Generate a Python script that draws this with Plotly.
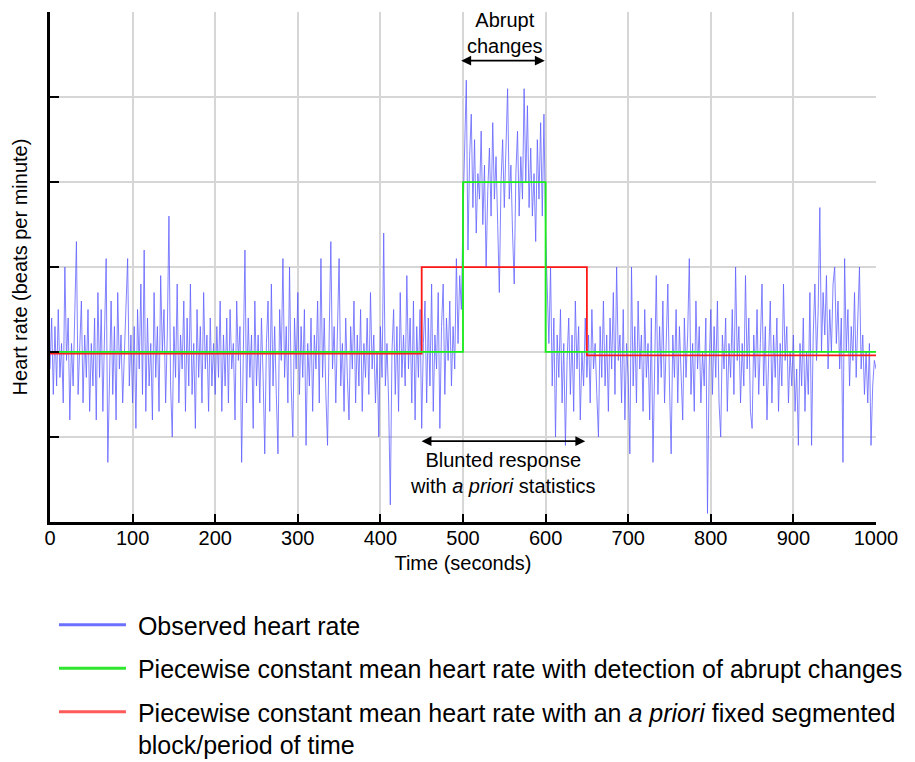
import plotly.graph_objects as go

# ---- data -------------------------------------------------------------
time_step = 2  # seconds between observed samples
obs_000_098 = [68, 74, 65, 73, 66, 75, 67, 71, 64, 80, 69, 74, 62, 71, 66, 73, 83, 65, 70, 76, 64, 72, 67, 75, 63,
               71, 66, 74, 62, 77, 67, 75, 63, 74, 81, 57, 69, 76, 65, 73, 62, 77, 68, 72, 64, 70, 76, 81, 66, 72]
obs_100_198 = [64, 73, 61, 75, 68, 78, 65, 82, 63, 74, 66, 71, 62, 77, 67, 73, 63, 79, 70, 75, 64, 72, 86, 66, 60,
               73, 67, 78, 64, 72, 68, 76, 63, 74, 66, 78, 65, 71, 61, 75, 67, 73, 64, 77, 68, 72, 63, 74, 66, 71]
obs_200_298 = [65, 73, 67, 76, 63, 72, 66, 74, 64, 75, 68, 71, 62, 76, 69, 73, 57, 70, 82, 64, 74, 67, 72, 61, 76,
               66, 72, 64, 74, 67, 58, 71, 76, 63, 78, 66, 73, 65, 58, 75, 69, 81, 67, 73, 64, 80, 66, 60, 74, 68]
obs_300_398 = [77, 65, 73, 67, 75, 59, 71, 66, 74, 63, 72, 68, 76, 64, 81, 67, 74, 65, 59, 72, 83, 68, 73, 64, 75,
               81, 66, 71, 63, 74, 67, 62, 73, 68, 76, 64, 72, 66, 75, 63, 71, 67, 74, 65, 77, 68, 72, 64, 70, 60]
obs_400_498 = [73, 67, 84, 66, 71, 64, 52, 70, 75, 65, 73, 63, 77, 67, 72, 66, 79, 68, 74, 64, 76, 62, 73, 67, 75,
               61, 71, 76, 64, 74, 66, 78, 63, 72, 68, 77, 61, 73, 78, 65, 74, 69, 76, 66, 73, 68, 81, 71, 79, 75]
obs_500_598 = [86, 94, 102, 82, 93, 98, 87, 95, 84, 91, 88, 96, 85, 92, 80, 89, 94, 86, 97, 88, 93, 85, 77, 90, 95,
               87, 93, 101, 88, 92, 84, 78, 91, 96, 86, 93, 88, 101, 90, 99, 87, 94, 86, 91, 83, 95, 88, 97, 86, 98]
obs_600_698 = [84, 76, 71, 80, 66, 74, 60, 72, 67, 75, 64, 71, 59, 69, 74, 65, 72, 63, 76, 68, 73, 62, 70, 66, 74,
               67, 72, 64, 75, 68, 71, 65, 60, 73, 67, 76, 66, 72, 63, 74, 68, 77, 65, 80, 69, 72, 64, 75, 62, 71]
obs_700_798 = [67, 58, 80, 66, 73, 64, 76, 68, 72, 63, 75, 67, 71, 62, 74, 57, 70, 79, 65, 73, 67, 76, 64, 71, 78,
               66, 58, 72, 67, 75, 64, 73, 68, 62, 74, 67, 72, 81, 65, 71, 63, 76, 68, 73, 64, 70, 66, 74, 51, 68]
obs_800_898 = [75, 65, 73, 67, 76, 64, 60, 72, 68, 74, 63, 71, 67, 75, 65, 80, 69, 73, 64, 71, 66, 79, 68, 74, 63,
               61, 72, 67, 75, 65, 71, 78, 66, 73, 62, 70, 76, 64, 72, 67, 74, 63, 71, 66, 78, 69, 73, 64, 70, 66]
obs_900_1000 = [72, 63, 68, 59, 71, 66, 74, 63, 70, 65, 77, 59, 72, 78, 69, 75, 87, 70, 77, 72, 79, 68, 75, 70, 78,
                80, 71, 76, 68, 74, 57, 81, 70, 75, 66, 73, 69, 77, 67, 74, 80, 68, 72, 65, 70, 64, 71, 59, 66, 69, 68]

observed = (obs_000_098 + obs_100_198 + obs_200_298 + obs_300_398 + obs_400_498 +
            obs_500_598 + obs_600_698 + obs_700_798 + obs_800_898 + obs_900_1000)
obs_time = [i * time_step for i in range(len(observed))]

# piecewise constant means
green_breaks = [0, 500, 600, 1000]
green_levels = [70.0, 90.0, 70.0, 70.0]
red_breaks = [0, 450, 650, 1000]
red_levels = [69.8, 80.0, 69.6, 69.6]

x_ticks = list(range(0, 1001, 100))
y_ticks = [60, 70, 80, 90, 100, 110]

NB = "\u00a0"
legend_names = [
    NB + "Observed heart rate",
    NB + "Piecewise constant mean heart rate with detection of abrupt changes",
    NB + "Piecewise constant mean heart rate with an <i>a priori</i> fixed segmented<br>" + NB + "block/period of time",
]

FONT = "Arial, Liberation Sans, Helvetica, sans-serif"
BLUE, GREEN, RED = "#4747ff", "#1aee1a", "#ff1a1a"

fig = go.Figure()
fig.add_trace(go.Scatter(x=obs_time, y=observed, mode="lines",
                         line=dict(color=BLUE, width=0.8), opacity=0.85,
                         showlegend=False, hoverinfo="skip"))
fig.add_trace(go.Scatter(x=red_breaks, y=red_levels, mode="lines", line_shape="hv",
                         line=dict(color=RED, width=1.8), showlegend=False))
fig.add_trace(go.Scatter(x=green_breaks, y=green_levels, mode="lines", line_shape="hv",
                         line=dict(color=GREEN, width=1.8), showlegend=False))

# legend-only entries (thicker sample lines)
for name, col, grp in zip(legend_names, ["#6b70ff", "#2fe62f", "#ff5a5a"], ["a", "b", "c"]):
    fig.add_trace(go.Scatter(x=[None], y=[None], mode="lines", name=name,
                             line=dict(color=col, width=3), legendgroup=grp))

# arrows + labels
arrow_common = dict(xref="x", yref="y", axref="x", ayref="y", text="", showarrow=True,
                    arrowhead=2, arrowsize=1.1, arrowwidth=1.8, arrowcolor="black",
                    arrowside="end+start")
fig.add_annotation(x=599, y=104.3, ax=496, ay=104.3, **arrow_common)
fig.add_annotation(x=648, y=59.5, ax=448, ay=59.5, **arrow_common)
fig.add_annotation(x=551, y=107.6, text="Abrupt<br>changes", showarrow=False,
                   font=dict(size=20, family=FONT, color="black"))
fig.add_annotation(x=548, y=55.7, text="Blunted response<br>with <i>a priori</i> statistics",
                   showarrow=False, font=dict(size=20, family=FONT, color="black"))

# the page body adds an 8px offset; the figure fills the rest of the 915x762 window
fig.update_layout(
    width=907, height=754,
    margin=dict(l=42, r=39, t=4, b=240, autoexpand=False),
    plot_bgcolor="white", paper_bgcolor="white",
    font=dict(family=FONT, color="black"),
    showlegend=True,
    legend=dict(x=0.0048, y=-0.157, xanchor="left", yanchor="top",
                font=dict(size=25, family=FONT, color="black"),
                itemwidth=67, tracegroupgap=8, valign="top",
                bgcolor="rgba(0,0,0,0)"),
)
fig.update_xaxes(range=[0, 1000], tickvals=x_ticks, ticks="inside", ticklen=8, tickwidth=2,
                 tickcolor="black", showline=True, linecolor="black", linewidth=2.5,
                 showgrid=True, gridcolor="#d6d6d6", gridwidth=1.5, zeroline=False, automargin=False,
                 tickfont=dict(size=20, family=FONT, color="black"), ticklabelstandoff=-4,
                 title=dict(text="Time (seconds)", font=dict(size=20, family=FONT), standoff=9))
fig.update_yaxes(range=[49.98, 110.03], tickvals=y_ticks, showticklabels=False, ticks="inside",
                 ticklen=9, tickwidth=2, tickcolor="black", showline=True, linecolor="black",
                 linewidth=2.5, showgrid=True, gridcolor="#d6d6d6", gridwidth=1.5, zeroline=False,
                 automargin=False,
                 title=dict(text="Heart rate (beats per minute)", font=dict(size=20, family=FONT),
                            standoff=15))

fig.write_html("out.html")
